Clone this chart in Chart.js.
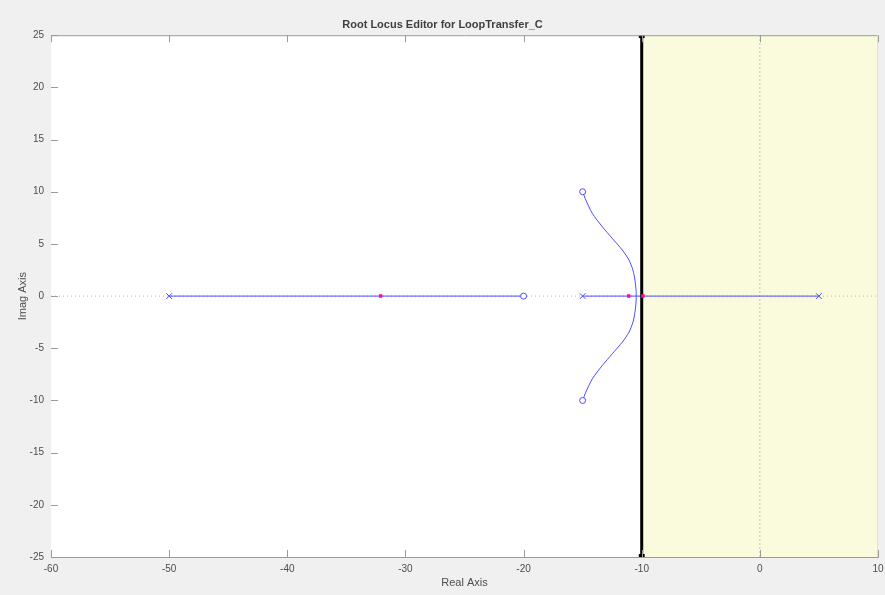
<!DOCTYPE html>
<html>
<head>
<meta charset="utf-8">
<script src="https://cdn.jsdelivr.net/npm/chart.js@4"></script>
<style>
  body { margin: 0; background: #f0f0f0; }
  #wrap { width: 885px; height: 595px; }
</style>
</head>
<body>
<div id="wrap"><canvas id="rlChart" width="885" height="595"></canvas></div>
<script>
// open-loop poles and zeros
const poleRe = [-50, -15, 5];
const poleIm = [0, 0, 0];
const zeroRe = [-20, -15, -15];
const zeroIm = [0, 10, -10];
// closed-loop poles for the current gain
const clPoleRe = [-32.1, -11.1, -9.9];
const clPoleIm = [0, 0, 0];
// real-axis locus segments
const seg1Re = [-50, -20];
const seg2Re = [-15, 5];
// complex branch
const curveRe = [-15, -14.73, -14.18, -13.33, -12.49, -11.64, -11.07, -10.74, -10.57, -10.48, -10.46,
                 -10.48, -10.57, -10.74, -11.07, -11.64, -12.49, -13.33, -14.18, -14.73, -15];
const curveIm = [10, 9.2, 7.92, 6.64, 5.53, 4.41, 3.45, 2.49, 1.53, 0.57, 0,
                 -0.57, -1.53, -2.49, -3.45, -4.41, -5.53, -6.64, -7.92, -9.2, -10];
// design constraint: real part <= -10
const boundRe = -10;
const xTicks = [-60, -50, -40, -30, -20, -10, 0, 10];
const yTicks = [-25, -20, -15, -10, -5, 0, 5, 10, 15, 20, 25];

const blue = '#4d4dff';
const pink = '#f5109e';
const pts = (xs, ys) => xs.map((x, i) => ({ x: x, y: ys[i] }));

// white plot area, yellow region, inside tick marks, box
const plotDecor = {
    id: 'plotDecor',
    beforeDatasetsDraw(chart) {
        const { ctx, chartArea: a, scales: { x, y } } = chart;
        ctx.save();
        ctx.fillStyle = '#ffffff';
        ctx.fillRect(a.left, a.top, a.right - a.left, a.bottom - a.top);
        const xb = x.getPixelForValue(boundRe);
        ctx.fillStyle = '#fafadc';
        ctx.fillRect(xb, a.top, a.right - xb, a.bottom - a.top);
        ctx.restore();
    },
    afterDatasetsDraw(chart) {
        const { ctx, chartArea: a, scales: { x, y } } = chart;
        ctx.save();
        ctx.strokeStyle = '#9a9a9a';
        ctx.lineWidth = 1;
        ctx.beginPath();
        xTicks.forEach(v => {
            const p = Math.round(x.getPixelForValue(v)) + 0.5;
            ctx.moveTo(p, a.bottom); ctx.lineTo(p, a.bottom - 7);
            ctx.moveTo(p, a.top); ctx.lineTo(p, a.top + 7);
        });
        yTicks.forEach(v => {
            const p = Math.round(y.getPixelForValue(v)) + 0.5;
            ctx.moveTo(a.left, p); ctx.lineTo(a.left + 7, p);
        });
        ctx.moveTo(a.left, a.top + 0.5); ctx.lineTo(a.right, a.top + 0.5);
        ctx.stroke();
        ctx.strokeStyle = '#e2e2c8';
        ctx.beginPath();
        ctx.moveTo(a.right - 0.5, a.top); ctx.lineTo(a.right - 0.5, a.bottom);
        ctx.stroke();
        ctx.restore();
    }
};

new Chart(document.getElementById('rlChart'), {
    type: 'scatter',
    data: {
        datasets: [
            { data: [{ x: -60, y: 0 }, { x: 10, y: 0 }], showLine: true, borderColor: '#b4b4b4', borderWidth: 1, borderDash: [1, 3], pointRadius: 0, order: 10 },
            { data: [{ x: 0, y: -25 }, { x: 0, y: 25 }], showLine: true, borderColor: '#c4c4c4', borderWidth: 1, borderDash: [2, 2], pointRadius: 0, order: 10 },
            { data: pts(seg1Re, [0, 0]), showLine: true, borderColor: blue, borderWidth: 1, pointRadius: 0, order: 8 },
            { data: pts(seg2Re, [0, 0]), showLine: true, borderColor: blue, borderWidth: 1, pointRadius: 0, order: 8 },
            { data: pts(curveRe, curveIm), showLine: true, borderColor: blue, borderWidth: 1, tension: 0.2, pointRadius: 0, order: 8 },
            { data: [{ x: boundRe, y: -25 }, { x: boundRe, y: 25 }], showLine: true, borderColor: '#000000', borderWidth: 3, pointStyle: 'rect', pointRadius: 2, backgroundColor: '#000000', order: 5 },
            { data: pts(poleRe, poleIm), pointStyle: 'crossRot', pointRadius: 4, borderColor: blue, borderWidth: 1, order: 2 },
            { data: pts(zeroRe, zeroIm), pointStyle: 'circle', pointRadius: 3, borderColor: blue, backgroundColor: '#ffffff', borderWidth: 1, order: 2 },
            { data: pts(clPoleRe, clPoleIm), pointStyle: 'rect', pointRadius: 2.5, borderColor: pink, backgroundColor: pink, borderWidth: 0, order: 1 }
        ]
    },
    options: {
        responsive: false,
        animation: false,
        events: [],
        layout: { padding: { left: 0, right: 0, top: 0, bottom: 0 } },
        plugins: {
            legend: { display: false },
            tooltip: { enabled: false },
            title: {
                display: true,
                text: 'Root Locus Editor for LoopTransfer_C',
                color: '#404040',
                font: { family: 'Liberation Sans', size: 11, weight: 'bold' },
                padding: { top: 18, bottom: 4 }
            }
        },
        scales: {
            x: {
                type: 'linear', min: -60, max: 10,
                afterFit(s) { s.height = 38; s.paddingRight = 7; s.paddingLeft = 0; },
                afterBuildTicks(s) { s.ticks = xTicks.map(v => ({ value: v })); },
                grid: { display: false, drawTicks: false },
                border: { display: true, color: '#9a9a9a', width: 1 },
                ticks: { padding: 6, color: '#4d4d4d', font: { family: 'Liberation Sans', size: 10 }, maxRotation: 0 },
                title: { display: true, text: 'Real Axis', color: '#4d4d4d', font: { family: 'Liberation Sans', size: 11 }, padding: { top: 0, bottom: 5 } }
            },
            y: {
                type: 'linear', min: -25, max: 25,
                afterFit(s) { s.width = 51; },
                afterBuildTicks(s) { s.ticks = yTicks.map(v => ({ value: v })); },
                grid: { display: false, drawTicks: false },
                border: { display: true, color: '#9a9a9a', width: 1 },
                ticks: { padding: 7, color: '#4d4d4d', font: { family: 'Liberation Sans', size: 10 } },
                title: { display: true, text: 'Imag Axis', color: '#4d4d4d', font: { family: 'Liberation Sans', size: 11 }, padding: { top: 16, bottom: 0 } }
            }
        }
    },
    plugins: [plotDecor]
});
</script>
</body>
</html>
